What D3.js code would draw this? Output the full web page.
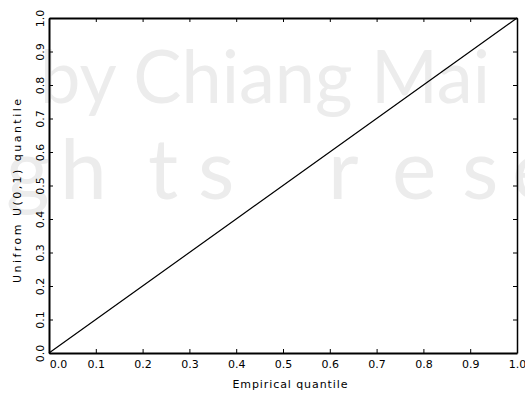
<!DOCTYPE html>
<html>
<head>
<meta charset="utf-8">
<script src="https://cdn.jsdelivr.net/npm/d3@7"></script>
<style>
  body { margin: 0; background: #fff; }
  svg { display: block; font-family: "DejaVu Sans", sans-serif; }
</style>
</head>
<body>
<svg id="chart"></svg>
<script>
// Q-Q plot: empirical quantile vs uniform U(0,1) quantile
const empiricalQuantile = [0.0, 0.1, 0.2, 0.3, 0.4, 0.5, 0.6, 0.7, 0.8, 0.9, 1.0];
const uniformQuantile   = [0.0, 0.1, 0.2, 0.3, 0.4, 0.5, 0.6, 0.7, 0.8, 0.9, 1.0];
const tickValues = [0, 0.1, 0.2, 0.3, 0.4, 0.5, 0.6, 0.7, 0.8, 0.9, 1.0];
const tickLabels = ['0.0', '0.1', '0.2', '0.3', '0.4', '0.5', '0.6', '0.7', '0.8', '0.9', '1.0'];
const xLabel = 'Empirical quantile';
const yLabel = 'Unifrom U(0,1) quantile';

const width = 525, height = 396;
const margin = {top: 18, right: 8, bottom: 43, left: 49};
const innerWidth = width - margin.left - margin.right;
const innerHeight = height - margin.top - margin.bottom;

const svg = d3.select('#chart')
    .attr('width', width)
    .attr('height', height);

// faint background watermark
const wm = svg.append('g')
    .attr('fill', '#ececec')
    .style('font-family', 'Lato, "Open Sans", sans-serif');
wm.append('text')
    .attr('x', 40)
    .attr('y', 103)
    .attr('font-size', 74)
    .attr('textLength', 450)
    .attr('lengthAdjust', 'spacingAndGlyphs')
    .text('by Chiang Mai');
const wmLetters = ['g', 'h', 't', 's', 'r', 'e', 's', 'e'];
const wmX = [6, 60, 148, 198, 328, 392, 462, 512];
wm.append('text')
    .attr('y', 199)
    .attr('font-size', 84)
    .selectAll('tspan')
    .data(wmLetters)
    .join('tspan')
    .attr('x', (d, i) => wmX[i])
    .text(d => d);

const chart = svg.append('g')
    .attr('transform', `translate(${margin.left}, ${margin.top})`);

const xscale = d3.scaleLinear().domain([0, 1]).range([0, innerWidth]);
const yscale = d3.scaleLinear().domain([0, 1]).range([innerHeight, 0]);

const fmt = d => tickLabels[tickValues.indexOf(d)];

// bottom axis with inward ticks
const xaxis = d3.axisBottom(xscale)
    .tickValues(tickValues)
    .tickFormat(fmt)
    .tickSizeInner(-4)
    .tickSizeOuter(0)
    .tickPadding(7);
const xg = chart.append('g')
    .attr('transform', `translate(0, ${innerHeight})`)
    .call(xaxis);
xg.selectAll('text')
    .attr('font-size', 11)
    .attr('font-family', '"DejaVu Sans", sans-serif')
    .attr('fill', '#000')
    .attr('dx', (d, i) => i === 0 ? 9 : 0);

// left axis with rotated labels
const yaxis = d3.axisLeft(yscale)
    .tickValues(tickValues)
    .tickFormat(fmt)
    .tickSizeInner(-4)
    .tickSizeOuter(0);
const yg = chart.append('g').call(yaxis);
yg.selectAll('text')
    .attr('x', 0)
    .attr('dy', 0)
    .attr('text-anchor', 'middle')
    .attr('transform', 'translate(-5.5, 0) rotate(-90)')
    .attr('font-size', 11)
    .attr('font-family', '"DejaVu Sans", sans-serif')
    .attr('fill', '#000');

// top and right frame with inward ticks, no labels
const topg = chart.append('g')
    .call(d3.axisTop(xscale).tickValues(tickValues).tickFormat('').tickSizeInner(-4).tickSizeOuter(0));
const rightg = chart.append('g')
    .attr('transform', `translate(${innerWidth}, 0)`)
    .call(d3.axisRight(yscale).tickValues(tickValues).tickFormat('').tickSizeInner(-4).tickSizeOuter(0));

[xg, yg, topg].forEach(g => g.select('.domain').attr('stroke', '#000').attr('stroke-width', 2));
rightg.select('.domain').attr('stroke', '#000').attr('stroke-width', 1.5);
chart.selectAll('.tick line').attr('stroke', '#000').attr('stroke-width', 1);

// the Q-Q line
const line = d3.line()
    .x(d => xscale(d[0]))
    .y(d => yscale(d[1]));
chart.append('path')
    .datum(empiricalQuantile.map((v, i) => [v, uniformQuantile[i]]))
    .attr('d', line)
    .attr('fill', 'none')
    .attr('stroke', '#000')
    .attr('stroke-width', 1.2);

// axis labels
svg.append('text')
    .attr('x', 290)
    .attr('y', 388)
    .attr('text-anchor', 'middle')
    .attr('font-size', 11)
    .attr('textLength', 115)
    .attr('lengthAdjust', 'spacing')
    .text(xLabel);

svg.append('text')
    .attr('transform', 'translate(21, 191) rotate(-90)')
    .attr('text-anchor', 'middle')
    .attr('font-size', 11)
    .attr('textLength', 184)
    .attr('lengthAdjust', 'spacing')
    .text(yLabel);
</script>
</body>
</html>
